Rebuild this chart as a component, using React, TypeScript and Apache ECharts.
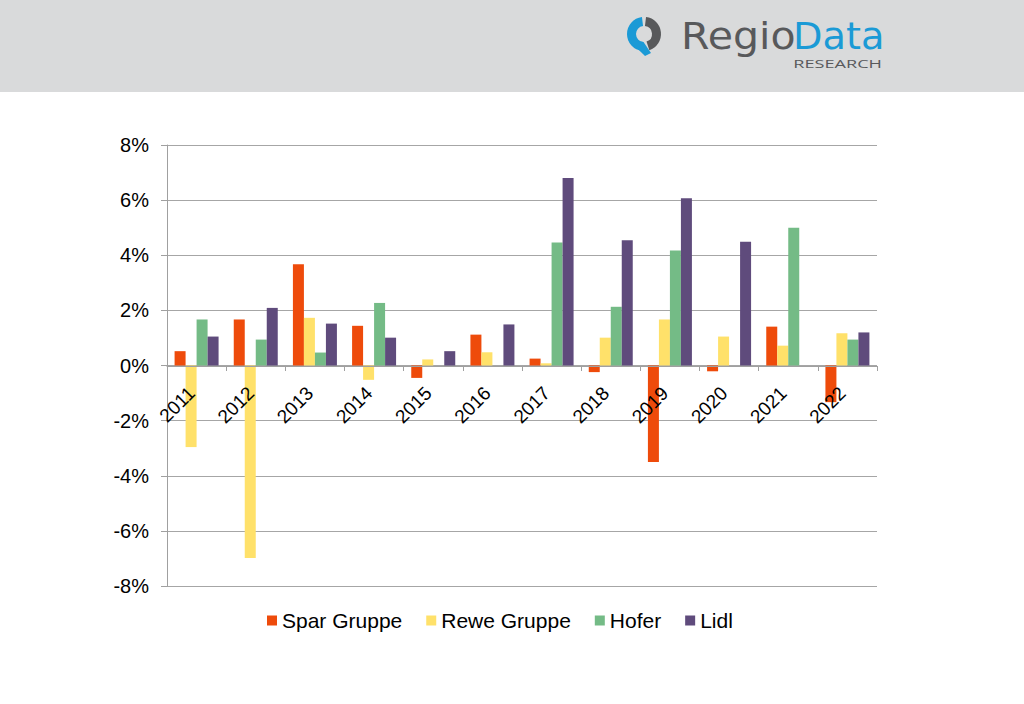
import React, { useEffect, useRef } from "react";
import * as echarts from "echarts";

const years = ["2011", "2012", "2013", "2014", "2015", "2016", "2017", "2018", "2019", "2020", "2021", "2022"];
const spar = [0.52, 1.67, 3.67, 1.44, -0.45, 1.12, 0.25, -0.24, -3.5, -0.21, 1.41, -1.33];
const rewe = [-2.96, -6.98, 1.73, -0.52, 0.22, 0.48, 0.08, 1.01, 1.67, 1.05, 0.72, 1.17];
const hofer = [1.67, 0.94, 0.47, 2.27, 0, 0, 4.46, 2.13, 4.17, 0, 5.0, 0.94];
const lidl = [1.05, 2.09, 1.52, 1.01, 0.52, 1.49, 6.8, 4.54, 6.07, 4.49, 0, 1.2];

const seriesNames = ["Spar Gruppe", "Rewe Gruppe", "Hofer", "Lidl"];
const seriesColors = ["#ee4b0b", "#ffe16a", "#74bb86", "#5f4b7c"];

export default function App() {
  const ref = useRef<HTMLDivElement>(null);
  useEffect(() => {
    if (!ref.current) return;
    const chart = echarts.init(ref.current, null, { renderer: "svg" });
    const cx = 644, cy = 34;
    const data = [spar, rewe, hofer, lidl];
    const font = "Liberation Sans, Arial, sans-serif";
    chart.setOption({
      animation: false,
      backgroundColor: "#ffffff",
      textStyle: { fontFamily: font },
      grid: { left: 167, right: 147, top: 145, bottom: 118 },
      legend: {
        left: 262,
        top: 605,
        itemWidth: 10,
        itemHeight: 10,
        itemGap: 24,
        icon: "rect",
        textStyle: { fontSize: 21, color: "#000", fontFamily: font },
        data: seriesNames,
      },
      xAxis: {
        type: "category",
        data: years,
        z: 10,
        position: "bottom",
        offset: -220,
        axisLine: { onZero: false, lineStyle: { color: "#a0a0a0", width: 1 } },
        axisTick: { show: true, length: 5, lineStyle: { color: "#a0a0a0" } },
        axisLabel: { rotate: 45, fontSize: 19, color: "#000", margin: 19, padding: [0, 7, 0, 0], fontFamily: font },
      },
      yAxis: {
        type: "value",
        min: -8,
        max: 8,
        interval: 2,
        axisLine: { show: true, lineStyle: { color: "#a0a0a0", width: 1 } },
        axisTick: { show: true, length: 6, lineStyle: { color: "#a0a0a0" } },
        splitLine: { show: true, lineStyle: { color: "#a6a6a6", width: 1 } },
        axisLabel: { formatter: "{value}%", fontSize: 20, color: "#000", margin: 18, fontFamily: font },
      },
      series: seriesNames.map((name, i) => ({
        name,
        type: "bar",
        data: data[i],
        barWidth: 11,
        barGap: "0%",
        itemStyle: { color: seriesColors[i] },
      })),
      graphic: [
        {
          type: "rect",
          left: 0,
          top: 0,
          z: -10,
          shape: { x: 0, y: 0, width: 1024, height: 92 },
          style: { fill: "#d9dadb" },
        },
        {
          type: "sector",
          shape: { cx, cy, r: 17, r0: 8, startAngle: -Math.PI / 2 + 0.12, endAngle: 1.25, clockwise: true },
          style: { fill: "#58595b" },
        },
        {
          type: "sector",
          shape: { cx, cy, r: 17, r0: 8, startAngle: 0.5 * Math.PI + 0.1, endAngle: 1.5 * Math.PI - 0.12, clockwise: true },
          style: { fill: "#1b9ad6" },
        },
        {
          type: "polygon",
          shape: { points: [[628.5, 40], [645, 56], [651, 53], [643.5, 42]] },
          style: { fill: "#1b9ad6" },
        },
        {
          type: "text",
          x: 681,
          y: 18,
          scaleX: 1.11,
          style: { text: "Regio", fill: "#58595b", font: "normal 37px 'DejaVu Sans', sans-serif" },
        },
        {
          type: "text",
          x: 793,
          y: 18,
          scaleX: 1.035,
          style: { text: "Data", fill: "#1b9ad6", font: "normal 37px 'DejaVu Sans', sans-serif" },
        },
        {
          type: "text",
          x: 882,
          y: 58,
          style: { text: "RESEARCH", fill: "#58595b", font: "normal 11px 'Open Sans', sans-serif", textAlign: "right" },
          scaleX: 1.65,
        },
      ],
    });
    return () => chart.dispose();
  }, []);
  return <div ref={ref} style={{ position: "fixed", left: 0, top: 0, width: 1024, height: 704 }} />;
}
